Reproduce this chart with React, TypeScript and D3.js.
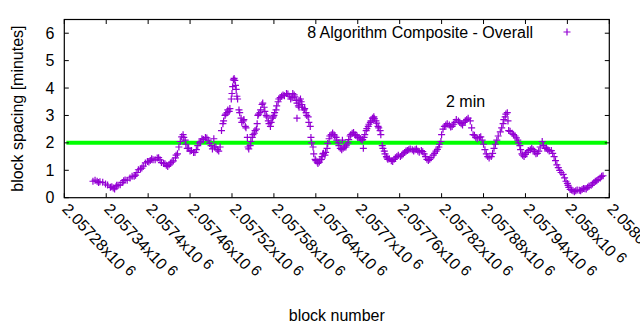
import React from "react";
import * as d3 from "d3";

// main reading of the trend
const blocks = [
  2057321, 2057327, 2057331, 2057339, 2057346, 2057350, 2057354, 2057357, 2057363, 2057367,
  2057374, 2057380, 2057384, 2057389, 2057393, 2057399, 2057403, 2057407, 2057413, 2057417,
  2057422, 2057426, 2057430, 2057434, 2057439, 2057442, 2057446, 2057450, 2057453, 2057456,
  2057460, 2057465, 2057469, 2057473, 2057477, 2057482, 2057486, 2057490, 2057495, 2057499,
  2057503, 2057507, 2057510, 2057513, 2057516, 2057519, 2057520, 2057522, 2057523, 2057525,
  2057526, 2057527, 2057530, 2057533, 2057536, 2057539, 2057542, 2057543, 2057546, 2057549,
  2057552, 2057555, 2057557, 2057560, 2057563, 2057566, 2057569, 2057572, 2057575, 2057578,
  2057580, 2057583, 2057586, 2057589, 2057593, 2057598, 2057602, 2057606, 2057609, 2057612,
  2057615, 2057618, 2057620, 2057623, 2057626, 2057629, 2057632, 2057633, 2057636, 2057639,
  2057642, 2057645, 2057648, 2057650, 2057653, 2057656, 2057659, 2057662, 2057666, 2057669,
  2057672, 2057675, 2057679, 2057683, 2057686, 2057689, 2057692, 2057696, 2057699, 2057702,
  2057706, 2057709, 2057712, 2057715, 2057718, 2057721, 2057723, 2057726, 2057729, 2057732,
  2057735, 2057738, 2057741, 2057743, 2057748, 2057752, 2057756, 2057761, 2057765, 2057769,
  2057773, 2057778, 2057782, 2057786, 2057791, 2057795, 2057799, 2057803, 2057808, 2057812,
  2057816, 2057819, 2057822, 2057826, 2057831, 2057835, 2057839, 2057844, 2057848, 2057852,
  2057856, 2057861, 2057865, 2057869, 2057874, 2057878, 2057882, 2057886, 2057891, 2057895,
  2057899, 2057904, 2057908, 2057911, 2057914, 2057916, 2057921, 2057925, 2057929, 2057932,
  2057935, 2057938, 2057942, 2057947, 2057951, 2057955, 2057959, 2057964, 2057968, 2057972,
  2057977, 2057981, 2057985, 2057989, 2057994, 2057998, 2058001, 2058004, 2058008, 2058012,
  2058017, 2058021, 2058025, 2058029, 2058034, 2058038, 2058042, 2058047, 2058051,
];

const spacing = [
  0.6, 0.6, 0.58, 0.5, 0.38, 0.35, 0.4, 0.45, 0.55, 0.65,
  0.72, 0.78, 0.92, 1.05, 1.15, 1.32, 1.36, 1.38, 1.45, 1.38,
  1.25, 1.18, 1.2, 1.3, 1.45, 1.6, 2.05, 2.3, 2.1, 1.8,
  1.7, 1.65, 1.75, 2.0, 2.15, 2.2, 2.1, 1.9, 1.85, 1.75,
  1.85, 2.7, 3.0, 3.1, 3.15, 3.6, 3.8, 4.3, 4.35, 4.1,
  3.95, 3.7, 3.2, 2.9, 2.8, 2.6, 2.2, 1.85, 1.9, 2.2,
  2.35, 2.5, 3.0, 3.1, 3.4, 3.3, 3.0, 2.8, 2.6, 2.9,
  3.0, 3.2, 3.5, 3.65, 3.75, 3.8, 3.7, 3.65, 3.75, 3.55,
  3.35, 3.6, 3.4, 3.2, 3.1, 2.95, 2.6, 2.2, 1.85, 1.4,
  1.3, 1.3, 1.4, 1.6, 1.55, 1.8, 2.15, 2.3, 2.3, 2.2,
  2.0, 1.8, 1.8, 1.85, 2.0, 2.25, 2.35, 2.3, 2.25, 2.2,
  2.1, 2.2, 2.45, 2.6, 2.75, 2.9, 2.95, 2.8, 2.6, 2.45,
  1.9, 1.7, 1.5, 1.4, 1.35, 1.4, 1.5, 1.5, 1.6, 1.7,
  1.75, 1.75, 1.75, 1.7, 1.72, 1.6, 1.4, 1.4, 1.55, 1.7,
  1.85, 2.05, 2.5, 2.65, 2.65, 2.6, 2.75, 2.8, 2.7, 2.75,
  2.85, 2.8, 2.3, 2.2, 2.2, 2.1, 1.75, 1.5, 1.5, 1.8,
  2.1, 2.4, 2.7, 2.95, 3.1, 2.45, 2.35, 2.25, 2.1, 1.9,
  1.6, 1.5, 1.65, 1.75, 1.75, 1.6, 1.7, 2.05, 1.8, 1.75,
  1.72, 1.5, 1.2, 1.0, 0.85, 0.6, 0.45, 0.3, 0.25, 0.25,
  0.27, 0.3, 0.33, 0.38, 0.45, 0.55, 0.62, 0.72, 0.8,
];

// second reading: the spread of the band between the points above, plus stray points
const bandBlocks = [
  2057324, 2057329, 2057335, 2057342, 2057348, 2057352, 2057355, 2057360, 2057365, 2057370,
  2057377, 2057382, 2057386, 2057391, 2057396, 2057401, 2057405, 2057410, 2057415, 2057419,
  2057424, 2057428, 2057432, 2057436, 2057440, 2057444, 2057448, 2057451, 2057454, 2057458,
  2057462, 2057467, 2057471, 2057475, 2057479, 2057484, 2057488, 2057492, 2057497, 2057501,
  2057505, 2057508, 2057511, 2057514, 2057517, 2057521, 2057524, 2057528, 2057531, 2057534,
  2057537, 2057540, 2057544, 2057547, 2057550, 2057553, 2057556, 2057558, 2057561, 2057564,
  2057567, 2057570, 2057573, 2057576, 2057579, 2057581, 2057584, 2057587, 2057591, 2057595,
  2057600, 2057604, 2057607, 2057610, 2057613, 2057616, 2057619, 2057621, 2057624, 2057627,
  2057630, 2057634, 2057637, 2057640, 2057643, 2057646, 2057649, 2057651, 2057654, 2057657,
  2057660, 2057664, 2057667, 2057670, 2057673, 2057677, 2057681, 2057684, 2057687, 2057690,
  2057694, 2057697, 2057700, 2057704, 2057707, 2057710, 2057713, 2057716, 2057719, 2057722,
  2057724, 2057727, 2057730, 2057733, 2057736, 2057739, 2057742, 2057745, 2057750, 2057754,
  2057758, 2057763, 2057767, 2057771, 2057775, 2057780, 2057784, 2057788, 2057793, 2057797,
  2057801, 2057805, 2057810, 2057814, 2057817, 2057820, 2057824, 2057828, 2057833, 2057837,
  2057841, 2057846, 2057850, 2057854, 2057858, 2057863, 2057867, 2057871, 2057876, 2057880,
  2057884, 2057888, 2057893, 2057897, 2057901, 2057906, 2057909, 2057912, 2057915, 2057918,
  2057923, 2057927, 2057930, 2057933, 2057936, 2057940, 2057944, 2057949, 2057953, 2057957,
  2057961, 2057966, 2057970, 2057974, 2057979, 2057983, 2057987, 2057991, 2057996, 2058000,
  2058002, 2058006, 2058010, 2058014, 2058019, 2058023, 2058027, 2058031, 2058036, 2058040,
  2058044, 2058049, 2057613, 2057678, 2057708, 2057494, 2057616,
];

const bandSpacing = [
  0.64, 0.55, 0.56, 0.46, 0.4, 0.32, 0.45, 0.47, 0.62, 0.64,
  0.78, 0.82, 1.02, 1.08, 1.27, 1.3, 1.42, 1.38, 1.46, 1.28,
  1.24, 1.14, 1.27, 1.34, 1.55, 1.85, 2.22, 2.2, 1.95, 1.8,
  1.72, 1.65, 1.9, 2.05, 2.12, 2.18, 1.98, 1.78, 1.85, 1.7,
  2.45, 2.8, 3.05, 3.2, 3.25, 4.05, 4.28, 3.6, 3.1, 2.75,
  2.85, 2.55, 1.78, 2.05, 2.3, 2.45, 2.7, 3.05, 3.2, 3.45,
  3.15, 2.95, 2.7, 2.75, 2.95, 3.1, 3.35, 3.6, 3.7, 3.72,
  3.78, 3.6, 3.8, 3.68, 3.45, 3.55, 3.5, 3.3, 3.25, 3.0,
  2.75, 2.0, 1.6, 1.35, 1.25, 1.38, 1.5, 1.62, 1.65, 1.98,
  2.25, 2.36, 2.25, 2.1, 1.9, 1.75, 1.85, 1.92, 2.12, 2.3,
  2.38, 2.28, 2.2, 2.15, 2.12, 2.3, 2.52, 2.68, 2.8, 2.9,
  2.88, 2.72, 2.55, 2.3, 1.8, 1.6, 1.45, 1.42, 1.32, 1.45,
  1.55, 1.55, 1.65, 1.72, 1.78, 1.7, 1.78, 1.66, 1.68, 1.5,
  1.36, 1.46, 1.62, 1.76, 1.95, 2.3, 2.6, 2.7, 2.58, 2.68,
  2.85, 2.75, 2.65, 2.8, 2.9, 2.55, 2.28, 2.15, 2.22, 1.95,
  1.6, 1.45, 1.62, 1.95, 2.25, 2.55, 2.85, 3.05, 2.8, 2.42,
  2.3, 2.18, 2.0, 1.75, 1.55, 1.58, 1.72, 1.8, 1.68, 1.62,
  1.85, 1.9, 1.82, 1.7, 1.62, 1.35, 1.1, 0.92, 0.72, 0.52,
  0.38, 0.28, 0.22, 0.28, 0.25, 0.34, 0.32, 0.43, 0.5, 0.6,
  0.66, 0.78, 2.9, 2.1, 1.8, 2.15, 3.3,
];

const xTicks = [
  2057280, 2057340, 2057400, 2057460, 2057520, 2057580, 2057640,
  2057700, 2057760, 2057820, 2057880, 2057940, 2058000, 2058060,
];
const yTicks = [0, 1, 2, 3, 4, 5, 6];
const targetSpacing = 2;
const seriesLabel = "8 Algorithm Composite - Overall";
const targetLabel = "2 min";
const xTitle = "block number";
const yTitle = "block spacing [minutes]";

const W = 640, H = 330;
const L = 64.3, R = 609.3, T = 19.5, B = 197.7;
const PURPLE = "#9400d3";
const FONT = "'Liberation Sans', Arial, sans-serif";
const FS = 16;

export default function App() {
  const x = d3.scaleLinear().domain([2057280, 2058060]).range([L, R]);
  const y = d3.scaleLinear().domain([0, 6.5]).range([B, T]);
  const arm = 3.5;
  const tk = 4.5;
  const cross = (cx: number, cy: number, key: string | number) => (
    <path key={key} d={`M${cx - arm},${cy}H${cx + arm}M${cx},${cy - arm}V${cy + arm}`} stroke={PURPLE} strokeWidth={1.2} fill="none" />
  );
  const fmt = (b: number) => String(+(b / 1e6).toFixed(5));
  return (
    <div style={{ position: "fixed", left: 0, top: 0 }}>
      <svg width={W} height={H} style={{ display: "block", background: "#fff" }} fontFamily={FONT}>
        <rect x={0} y={0} width={W} height={H} fill="#fff" />
        <line x1={x(2057283)} x2={x(2058057)} y1={y(targetSpacing)} y2={y(targetSpacing)} stroke="#00ff00" strokeWidth={4} />
        <g>{blocks.map((b, i) => cross(x(b), y(spacing[i]), "a" + i))}</g>
        <g>{bandBlocks.map((b, i) => cross(x(b), y(bandSpacing[i]), "b" + i))}</g>
        <rect x={L} y={T} width={R - L} height={B - T} fill="none" stroke="#000" strokeWidth={1.2} />
        {yTicks.map((v) => (
          <g key={"y" + v}>
            <line x1={L} x2={L + tk} y1={y(v)} y2={y(v)} stroke="#000" />
            <line x1={R} x2={R - tk} y1={y(v)} y2={y(v)} stroke="#000" />
            <text x={L - 10} y={y(v) + 5.5} textAnchor="end" fontSize={FS} fill="#000">{v}</text>
          </g>
        ))}
        {xTicks.map((b) => (
          <g key={"x" + b}>
            <line x1={x(b)} x2={x(b)} y1={B} y2={B - tk} stroke="#000" />
            <line x1={x(b)} x2={x(b)} y1={T} y2={T + tk} stroke="#000" />
            <text transform={`translate(${x(b) - 3},${B + 12}) rotate(47)`} fontSize={FS} fill="#000">
              {fmt(b)}x10<tspan dx={4} dy={-4} fontSize={FS - 1}>6</tspan>
            </text>
          </g>
        ))}
        <text x={533} y={38} textAnchor="end" fontSize={FS} fill="#000">{seriesLabel}</text>
        {cross(567, 32, "legend")}
        <text x={446} y={107} fontSize={FS} fill="#000">{targetLabel}</text>
        <text x={(L + R) / 2} y={321} textAnchor="middle" fontSize={FS} fill="#000">{xTitle}</text>
        <text transform={`translate(23,${(T + B) / 2}) rotate(-90)`} textAnchor="middle" fontSize={FS} fill="#000">{yTitle}</text>
      </svg>
    </div>
  );
}
